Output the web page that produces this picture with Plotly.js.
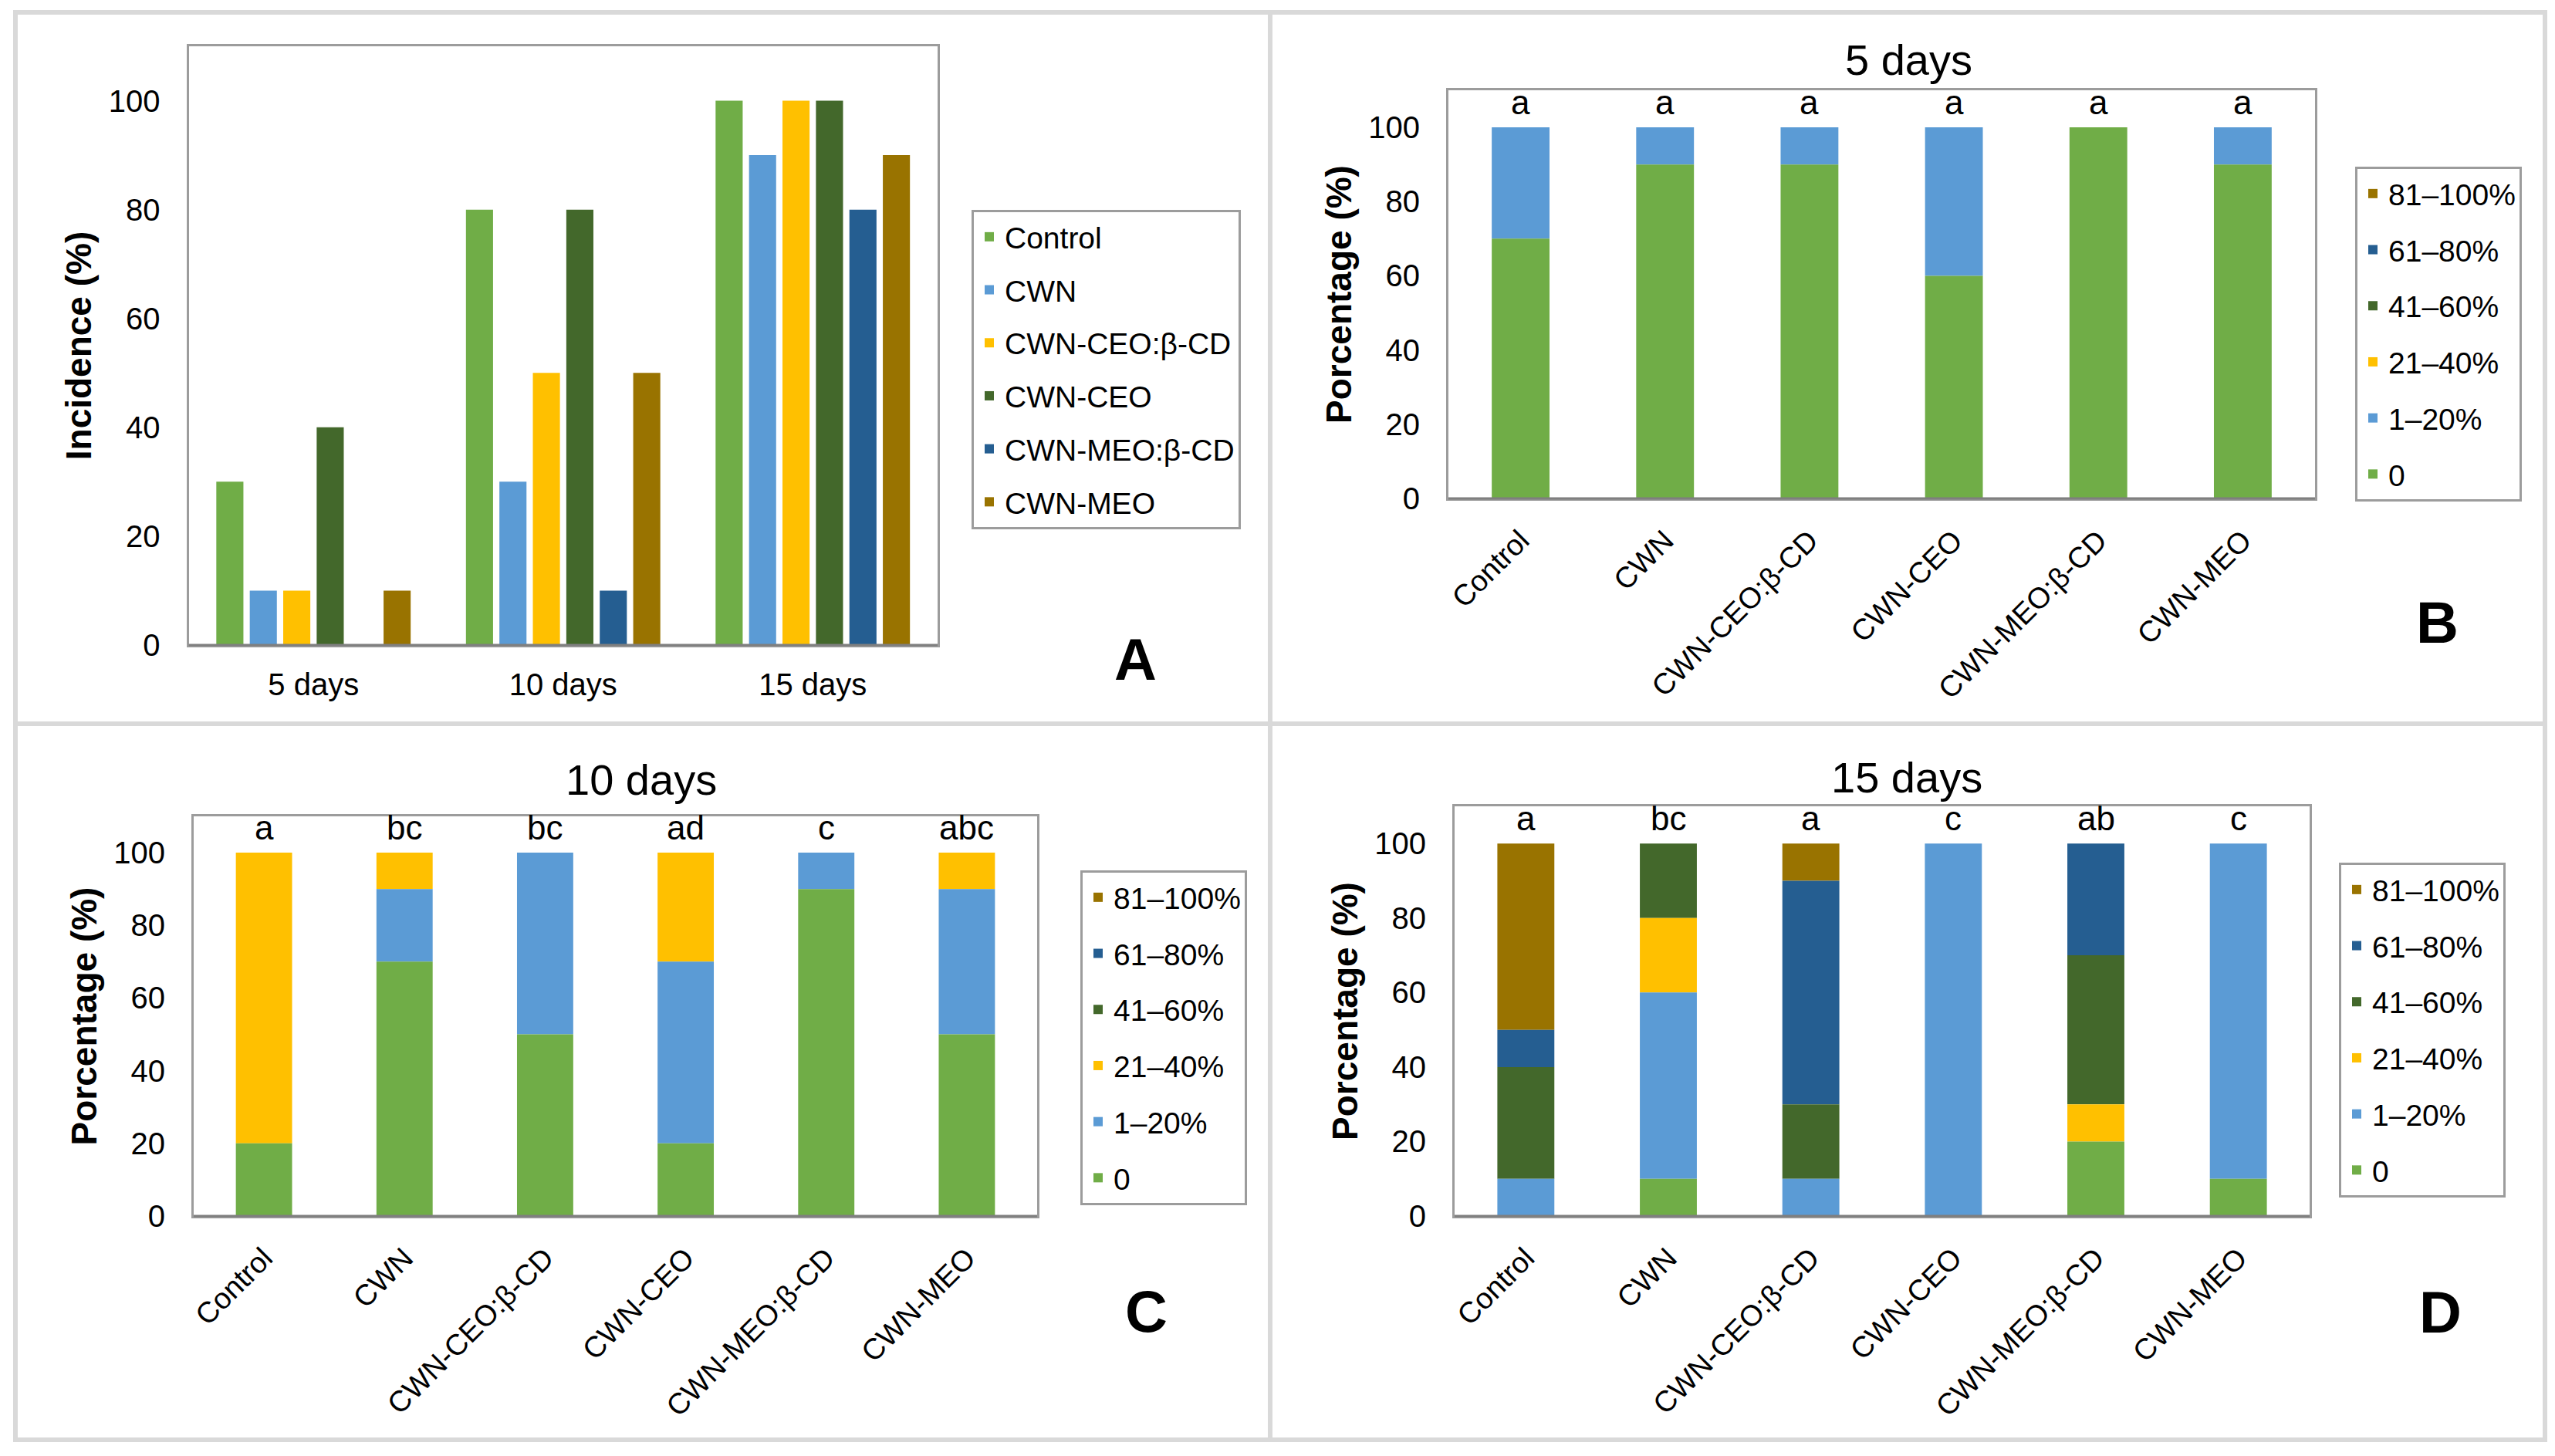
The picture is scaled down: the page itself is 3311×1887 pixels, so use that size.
<!DOCTYPE html>
<html>
<head>
<meta charset="utf-8">
<script src="https://cdn.plot.ly/plotly-3.0.1.min.js"></script>
<style>html,body{margin:0;padding:0;background:#fff;}#chart{width:3311px;height:1887px;}</style>
</head>
<body>
<div id="chart"></div>
<script>
// ---------- DATA ----------
const treatments = ["Control", "CWN", "CWN-CEO:β-CD", "CWN-CEO", "CWN-MEO:β-CD", "CWN-MEO"];
const days = ["5 days", "10 days", "15 days"];

// Panel A: incidence (%) per treatment at 5, 10, 15 days
const incControl = [30, 80, 100];
const incCWN     = [10, 30, 90];
const incCEOb    = [10, 50, 100];
const incCEO     = [40, 80, 100];
const incMEOb    = [0, 10, 80];
const incMEO     = [10, 50, 90];

// Severity classes
const severity = ["0", "1–20%", "21–40%", "41–60%", "61–80%", "81–100%"];

// Panel B: 5 days (rows = severity class, columns = treatments)
const d5_s0 = [70, 90, 90, 60, 100, 90];
const d5_s1 = [30, 10, 10, 40, 0, 10];
const d5_s2 = [0, 0, 0, 0, 0, 0];
const d5_s3 = [0, 0, 0, 0, 0, 0];
const d5_s4 = [0, 0, 0, 0, 0, 0];
const d5_s5 = [0, 0, 0, 0, 0, 0];
const d5_letters = ["a", "a", "a", "a", "a", "a"];

// Panel C: 10 days
const d10_s0 = [20, 70, 50, 20, 90, 50];
const d10_s1 = [0, 20, 50, 50, 10, 40];
const d10_s2 = [80, 10, 0, 30, 0, 10];
const d10_s3 = [0, 0, 0, 0, 0, 0];
const d10_s4 = [0, 0, 0, 0, 0, 0];
const d10_s5 = [0, 0, 0, 0, 0, 0];
const d10_letters = ["a", "bc", "bc", "ad", "c", "abc"];

// Panel D: 15 days
const d15_s0 = [0, 10, 0, 0, 20, 10];
const d15_s1 = [10, 50, 10, 100, 0, 90];
const d15_s2 = [0, 20, 0, 0, 10, 0];
const d15_s3 = [30, 20, 20, 0, 40, 0];
const d15_s4 = [10, 0, 60, 0, 30, 0];
const d15_s5 = [50, 0, 10, 0, 0, 0];
const d15_letters = ["a", "bc", "a", "c", "ab", "c"];

// ---------- STYLE ----------
const colors = ["#70AD47", "#5B9BD5", "#FFC000", "#43682B", "#255E91", "#997300"];
const W = 3311, H = 1887;
const FONT = "Liberation Sans, Arial, Helvetica, sans-serif";
const px = v => v / W;
const py = v => 1 - v / H;

const traces = [];

// Panel A grouped bars
const incSeries = [incControl, incCWN, incCEOb, incCEO, incMEOb, incMEO];
treatments.forEach((t, i) => {
  traces.push({
    type: "bar", x: days, y: incSeries[i], name: t,
    marker: {color: colors[i]}, xaxis: "x", yaxis: "y",
    legend: "legend", legendgroup: "A" + i, hoverinfo: "skip"
  });
});

// Stacked panels (bases computed cumulatively; traces added top class first so legend lists 81–100% first)
function addStack(series, xa, ya, leg, tag) {
  const bases = [];
  const cum = treatments.map(() => 0);
  series.forEach(vals => {
    bases.push(cum.slice());
    vals.forEach((v, j) => { cum[j] += v; });
  });
  for (let k = series.length - 1; k >= 0; k--) {
    traces.push({
      type: "bar", x: treatments, y: series[k], base: bases[k], name: severity[k],
      marker: {color: colors[k]}, xaxis: xa, yaxis: ya,
      offsetgroup: "stack" + tag, width: 0.4, offset: -0.2,
      legend: leg, legendgroup: tag + k, hoverinfo: "skip"
    });
  }
}
addStack([d5_s0, d5_s1, d5_s2, d5_s3, d5_s4, d5_s5], "x2", "y2", "legend2", "B");
addStack([d10_s0, d10_s1, d10_s2, d10_s3, d10_s4, d10_s5], "x3", "y3", "legend3", "C");
addStack([d15_s0, d15_s1, d15_s2, d15_s3, d15_s4, d15_s5], "x4", "y4", "legend4", "D");

// ---------- AXES ----------
function xAxis(dom, angle, size, anchor) {
  return {
    domain: dom, anchor: anchor, type: "category", tickangle: angle,
    showline: true, mirror: true, linecolor: "#9C9C9C", linewidth: 3,
    showgrid: false, zeroline: false, ticks: "", fixedrange: true,
    tickfont: {family: FONT, size: size, color: "#000"},
    ticklabelstandoff: angle === 0 ? 14 : 14
  };
}
function yAxis(dom, title, anchor) {
  return {
    domain: dom, anchor: anchor, range: [0, 110], dtick: 20, tick0: 0,
    showline: true, mirror: true, linecolor: "#9C9C9C", linewidth: 3,
    showgrid: false, zeroline: false, ticks: "", fixedrange: true,
    tickfont: {family: FONT, size: 40, color: "#000"},
    ticklabelstandoff: 26,
    title: {text: title, font: {family: FONT, size: 46, color: "#000", weight: "bold"}, standoff: 8}
  };
}

function legendBox(x, y, gap) {
  return {
    x: px(x), y: py(y), xanchor: "left", yanchor: "top",
    bgcolor: "rgba(255,255,255,0)", bordercolor: "#9C9C9C", borderwidth: 3,
    font: {family: FONT, size: 39, color: "#000"},
    tracegroupgap: gap, traceorder: "grouped"
  };
}

const annotations = [];
// Panel titles
[["5 days", 2473, 78], ["10 days", 831, 1010], ["15 days", 2471, 1007]].forEach(a => {
  annotations.push({text: a[0], xref: "paper", yref: "paper", x: px(a[1]), y: py(a[2]),
    xanchor: "center", yanchor: "middle", showarrow: false,
    font: {family: FONT, size: 56, color: "#000"}});
});
// Panel letters
[["A", 1471, 854], ["B", 3158, 806], ["C", 1485, 1699], ["D", 3162, 1700]].forEach(a => {
  annotations.push({text: a[0], xref: "paper", yref: "paper", x: px(a[1]), y: py(a[2]),
    xanchor: "center", yanchor: "middle", showarrow: false,
    font: {family: FONT, size: 76, color: "#000", weight: "bold"}});
});
// Significance letters
function addLetters(letters, xa, ya) {
  letters.forEach((l, j) => {
    annotations.push({text: l, xref: xa, yref: ya, x: treatments[j], y: 100,
      xanchor: "center", yanchor: "bottom", yshift: 6, showarrow: false,
      font: {family: FONT, size: 44, color: "#000"}});
  });
}
addLetters(d5_letters, "x2", "y2");
addLetters(d10_letters, "x3", "y3");
addLetters(d15_letters, "x4", "y4");

const borderStyle = {color: "#D9D9D9", width: 6};
const axisBottom = {color: "#7F7F7F", width: 3};
const shapes = [
  {type: "rect", xref: "paper", yref: "paper", x0: px(20), x1: px(3298), y0: py(16), y1: py(1866), line: borderStyle},
  {type: "line", xref: "paper", yref: "paper", x0: px(1646), x1: px(1646), y0: py(16), y1: py(1866), line: borderStyle},
  {type: "line", xref: "paper", yref: "paper", x0: px(20), x1: px(3298), y0: py(938), y1: py(938), line: borderStyle},
  {type: "line", xref: "x domain", yref: "y domain", x0: 0, x1: 1, y0: 0, y1: 0, line: axisBottom},
  {type: "line", xref: "x2 domain", yref: "y2 domain", x0: 0, x1: 1, y0: 0, y1: 0, line: axisBottom},
  {type: "line", xref: "x3 domain", yref: "y3 domain", x0: 0, x1: 1, y0: 0, y1: 0, line: axisBottom},
  {type: "line", xref: "x4 domain", yref: "y4 domain", x0: 0, x1: 1, y0: 0, y1: 0, line: axisBottom}
];

const layout = {
  width: W, height: H, margin: {l: 0, r: 0, t: 0, b: 0},
  paper_bgcolor: "#fff", plot_bgcolor: "#fff",
  barmode: "group", bargap: 0.196, bargroupgap: 0.19,
  font: {family: FONT, color: "#000"},
  xaxis:  xAxis([px(244.5), px(1215)], 0, 40, "y"),
  yaxis:  yAxis([py(836), py(60)], "Incidence (%)", "x"),
  xaxis2: xAxis([px(1877), px(3000)], -45, 38, "y2"),
  yaxis2: yAxis([py(646), py(117)], "Porcentage (%)", "x2"),
  xaxis3: xAxis([px(251), px(1344)], -45, 38, "y3"),
  yaxis3: yAxis([py(1576), py(1058)], "Porcentage (%)", "x3"),
  xaxis4: xAxis([px(1885), px(2993)], -45, 38, "y4"),
  yaxis4: yAxis([py(1576), py(1045)], "Porcentage (%)", "x4"),
  legend:  legendBox(1259, 272, 15),
  legend2: legendBox(3052, 216, 19),
  legend3: legendBox(1400, 1128, 19),
  legend4: legendBox(3031, 1118, 19),
  annotations: annotations, shapes: shapes, showlegend: true
};

Plotly.newPlot("chart", traces, layout, {staticPlot: true, displayModeBar: false});
</script>
</body>
</html>
